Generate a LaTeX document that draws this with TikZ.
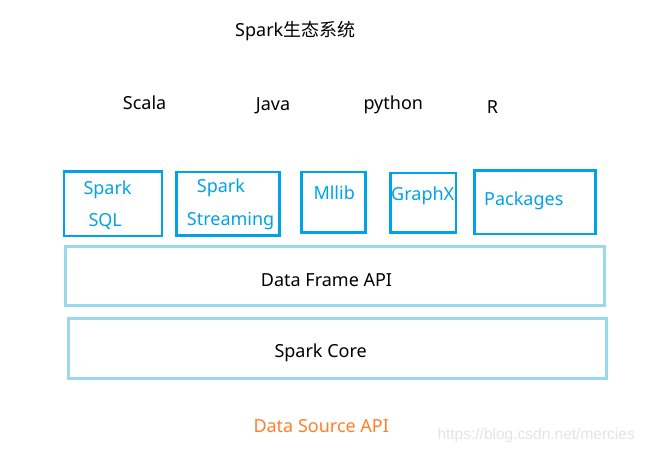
\documentclass[tikz,border=0pt]{standalone}
\usepackage{fontspec}
\usepackage{xcolor}
\usepackage{tikz}
\setmainfont{Noto Sans}
\newfontfamily\cjk{Noto Sans CJK SC}
\newfontfamily\wmfont{Liberation Sans}
\definecolor{modblue}{RGB}{0,162,232}
\definecolor{layerblue}{RGB}{153,217,234}
\definecolor{srcorange}{RGB}{255,127,39}
\definecolor{wmgray}{RGB}{228,228,228}
\newcommand{\lblsize}{\fontsize{18}{21.6}\selectfont}

\begin{document}
\begin{tikzpicture}[x=1pt, y=-1pt,
  modbox/.style={draw=modblue, line width=2.7pt, inner sep=0pt},
  layerbox/.style={draw=layerblue, line width=2.7pt, inner sep=0pt},
  lbl/.style={font=\lblsize, inner sep=0pt, anchor=base west}]
\useasboundingbox (0,0) rectangle (647,453);
\node[lbl] (title) at (235,36.7) {Spark{\cjk 生态系统}};
\node[lbl] (scala) at (122.7,109.3) {Scala};
\node[lbl] (java) at (255.7,110) {Java};
\node[lbl] (python) at (363.3,109.3) {python};
\node[lbl] (rlang) at (486.7,113.3) {R};
\node[modbox, minimum width=98pt, minimum height=64.6pt] (sqlbox) at (113,203.65) {};
\node[modbox, minimum width=102.7pt, minimum height=63.3pt] (streamingbox) at (228,203.67) {};
\node[modbox, minimum width=64pt, minimum height=60.6pt] (mllibbox) at (333.35,202.3) {};
\node[modbox, minimum width=65.6pt, minimum height=59.6pt] (graphxbox) at (423.15,202.8) {};
\node[modbox, minimum width=121pt, minimum height=63.6pt] (packagesbox) at (534.85,202.15) {};
\node[lbl, text=modblue] (sqltop) at (83.3,194) {Spark};
\node[lbl, text=modblue] (sqlbottom) at (88.3,226) {SQL};
\node[lbl, text=modblue] (streamingtop) at (196.7,192.3) {Spark};
\node[lbl, text=modblue] (streamingbottom) at (186.7,225) {Streaming};
\node[lbl, text=modblue] (mllib) at (313.3,199) {Mllib};
\node[lbl, text=modblue] (graphx) at (391,200.7) {GraphX};
\node[lbl, text=modblue] (packages) at (484,205) {Packages};
\node[layerbox, minimum width=539pt, minimum height=58.7pt] (dataframe) at (334.85,276) {};
\node[lbl] (dataframetext) at (260.7,286.7) {Data Frame API};
\node[layerbox, minimum width=537.7pt, minimum height=60pt] (sparkcore) at (337.5,348.65) {};
\node[lbl] (sparkcoretext) at (274.3,357) {Spark Core};
\node[lbl, text=srcorange] (datasource) at (253.3,432.7) {Data Source API};
\node[lbl, font=\wmfont\fontsize{15.5}{18}\selectfont, text=wmgray] (watermark) at (437.3,439.3) {https://blog.csdn.net/mercies};
\end{tikzpicture}
\end{document}
